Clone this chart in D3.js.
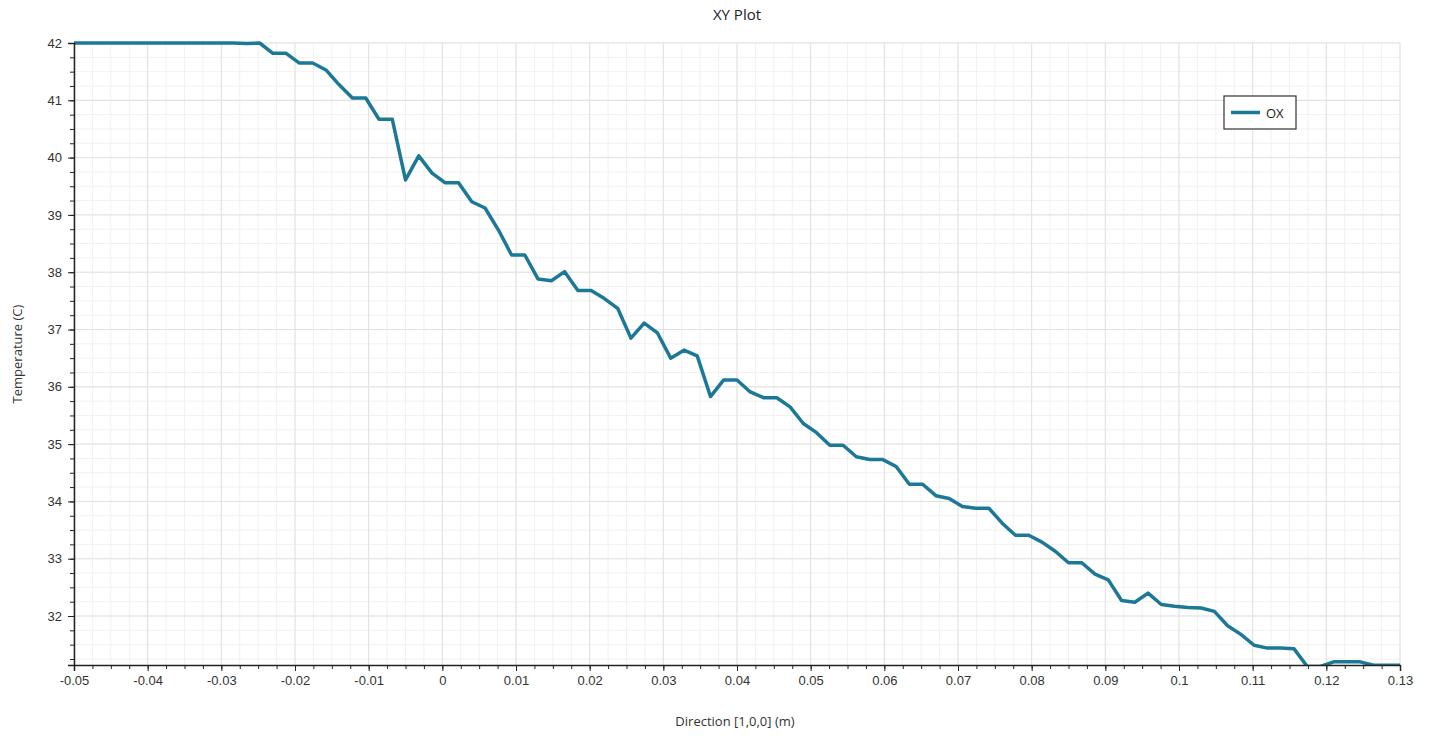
<!DOCTYPE html>
<html>
<head>
<meta charset="utf-8">
<script src="https://cdn.jsdelivr.net/npm/d3@7"></script>
<style>
  body { margin: 0; background: #fff; }
  svg { font-family: 'Open Sans', 'Noto Sans', sans-serif; }
  .tick text { fill: #333; font-size: 13px; }
</style>
</head>
<body>
<div id="chart"></div>
<script>
// sample positions along [1,0,0] (m)
const direction = [
  -0.05, -0.0482, -0.0464, -0.0446, -0.0428, -0.041, -0.0392, -0.0374, -0.0356, -0.0338,
  -0.032, -0.0302, -0.0284, -0.0266, -0.0248, -0.023, -0.0212, -0.0194, -0.0176, -0.0158,
  -0.014, -0.0122, -0.0104, -0.0086, -0.0068, -0.005, -0.0032, -0.0014, 0.0004, 0.0022,
  0.004, 0.0058, 0.0076, 0.0094, 0.0112, 0.013, 0.0148, 0.0166, 0.0184, 0.0202,
  0.022, 0.0238, 0.0256, 0.0274, 0.0292, 0.031, 0.0328, 0.0346, 0.0364, 0.0382,
  0.04, 0.0418, 0.0436, 0.0454, 0.0472, 0.049, 0.0508, 0.0526, 0.0544, 0.0562,
  0.058, 0.0598, 0.0616, 0.0634, 0.0652, 0.067, 0.0688, 0.0706, 0.0724, 0.0742,
  0.076, 0.0778, 0.0796, 0.0814, 0.0832, 0.085, 0.0868, 0.0886, 0.0904, 0.0922,
  0.094, 0.0958, 0.0976, 0.0994, 0.1012, 0.103, 0.1048, 0.1066, 0.1084, 0.1102,
  0.112, 0.1138, 0.1156, 0.1174, 0.1192, 0.121, 0.1228, 0.1246, 0.1264, 0.1282,
  0.13
]

// temperature (C) for series OX
const temperature = [
  42.0, 42.0, 42.0, 42.0, 42.0, 42.0, 42.0, 42.0, 42.0, 42.0,
  42.0, 42.0, 42.0, 41.99, 42.0, 41.82, 41.82, 41.65, 41.65, 41.53,
  41.27, 41.04, 41.04, 40.67, 40.67, 39.61, 40.03, 39.73, 39.56, 39.56,
  39.23, 39.12, 38.74, 38.3, 38.3, 37.88, 37.85, 38.01, 37.68, 37.68,
  37.54, 37.37, 36.85, 37.11, 36.94, 36.5, 36.64, 36.54, 35.83, 36.12,
  36.12, 35.91, 35.81, 35.81, 35.65, 35.36, 35.2, 34.98, 34.98, 34.78,
  34.73, 34.73, 34.61, 34.3, 34.3, 34.1, 34.05, 33.91, 33.88, 33.88,
  33.62, 33.41, 33.41, 33.29, 33.13, 32.93, 32.93, 32.73, 32.63, 32.27,
  32.24, 32.4, 32.2, 32.17, 32.15, 32.14, 32.08, 31.83, 31.68, 31.49,
  31.44, 31.44, 31.43, 31.12, 31.12, 31.2, 31.2, 31.2, 31.14, 31.14,
  31.14
]

const xTicks = [-0.05, -0.04, -0.03, -0.02, -0.01, 0, 0.01, 0.02, 0.03, 0.04, 0.05, 0.06, 0.07, 0.08, 0.09, 0.1, 0.11, 0.12, 0.13]
const yTicks = [32, 33, 34, 35, 36, 37, 38, 39, 40, 41, 42]
const xDomain = [-0.05, 0.13]
const yDomain = [31.145, 42]
const seriesName = 'OX'

const W = 1435, H = 740
const margin = {top: 43, right: 35, bottom: 75, left: 74}
const width = W - margin.left - margin.right
const height = H - margin.top - margin.bottom
const lineColor = '#1b7896'

const data = direction.map((d, i) => ({x: d, y: temperature[i]}))

const svg = d3.select('#chart').append('svg')
  .attr('width', W).attr('height', H)

const g = svg.append('g')
  .attr('transform', 'translate(' + margin.left + ',' + margin.top + ')')

const xScale = d3.scaleLinear().domain(xDomain).range([0, width])
const yScale = d3.scaleLinear().domain(yDomain).range([height, 0])

// minor ticks: quarter steps
const xMinor = d3.range(xDomain[0], xDomain[1] + 1e-9, 0.0025).map(v => +v.toFixed(4))
const yMinor = d3.range(31.25, 42.0001, 0.25)

// grid
g.append('g').selectAll('line.xm').data(xMinor).join('line')
  .attr('x1', d => xScale(d)).attr('x2', d => xScale(d))
  .attr('y1', 0).attr('y2', height)
  .attr('stroke', '#f1f1f1').attr('stroke-width', 1)
g.append('g').selectAll('line.ym').data(yMinor).join('line')
  .attr('y1', d => yScale(d)).attr('y2', d => yScale(d))
  .attr('x1', 0).attr('x2', width)
  .attr('stroke', '#f1f1f1').attr('stroke-width', 1)
g.append('g').selectAll('line.xM').data(xTicks).join('line')
  .attr('x1', d => xScale(d)).attr('x2', d => xScale(d))
  .attr('y1', 0).attr('y2', height)
  .attr('stroke', '#e2e2e2').attr('stroke-width', 1)
g.append('g').selectAll('line.yM').data(yTicks).join('line')
  .attr('y1', d => yScale(d)).attr('y2', d => yScale(d))
  .attr('x1', 0).attr('x2', width)
  .attr('stroke', '#e2e2e2').attr('stroke-width', 1)

// line
svg.append('clipPath').attr('id', 'clip')
  .append('rect').attr('x', -2).attr('y', -3).attr('width', width + 4).attr('height', height + 3)

const line = d3.line().x(d => xScale(d.x)).y(d => yScale(d.y))

g.append('path')
  .datum(data)
  .attr('clip-path', 'url(#clip)')
  .attr('fill', 'none')
  .attr('stroke', lineColor)
  .attr('stroke-width', 3.5)
  .attr('stroke-linejoin', 'round')
  .attr('d', line)

// axes (plain hyphen for negatives, like the source)
const fmt = d => String(+d.toFixed(2))

const xAxisMinor = g.append('g').attr('transform', 'translate(0,' + height + ')')
  .call(d3.axisBottom(xScale).tickValues(xMinor).tickSize(4).tickFormat(''))
xAxisMinor.select('.domain').remove()
const xAxis = g.append('g').attr('transform', 'translate(0,' + height + ')')
  .call(d3.axisBottom(xScale).tickValues(xTicks).tickSize(6).tickPadding(5).tickFormat(fmt))
xAxis.select('.domain').attr('stroke', '#222').attr('stroke-width', 1.5)

const yAxisMinor = g.append('g')
  .call(d3.axisLeft(yScale).tickValues(yMinor).tickSize(4).tickFormat(''))
yAxisMinor.select('.domain').remove()
const yAxis = g.append('g')
  .call(d3.axisLeft(yScale).tickValues(yTicks).tickSize(6).tickPadding(6).tickFormat(fmt))
yAxis.select('.domain').attr('stroke', '#222').attr('stroke-width', 1.5)

g.selectAll('.tick line').attr('stroke', '#222')

// labels
svg.append('text')
  .attr('x', 737).attr('y', 20)
  .attr('text-anchor', 'middle')
  .attr('font-size', 15).attr('fill', '#222')
  .text('XY Plot')

svg.append('text')
  .attr('x', 735).attr('y', 726)
  .attr('text-anchor', 'middle')
  .attr('font-size', 13).attr('fill', '#333')
  .text('Direction [1,0,0] (m)')

svg.append('text')
  .attr('transform', 'translate(22,' + (margin.top + height / 2) + ') rotate(-90)')
  .attr('text-anchor', 'middle')
  .attr('font-size', 13).attr('fill', '#333')
  .text('Temperature (C)')

// legend
const legend = svg.append('g').attr('transform', 'translate(1224,96)')
legend.append('rect')
  .attr('width', 72).attr('height', 33)
  .attr('fill', '#fff').attr('stroke', '#333').attr('stroke-width', 1.2)
legend.append('line')
  .attr('x1', 7).attr('x2', 36).attr('y1', 16.5).attr('y2', 16.5)
  .attr('stroke', lineColor).attr('stroke-width', 3.5)
legend.append('text')
  .attr('x', 42).attr('y', 21.5)
  .attr('font-size', 13).attr('fill', '#222')
  .text(seriesName)
</script>
</body>
</html>
